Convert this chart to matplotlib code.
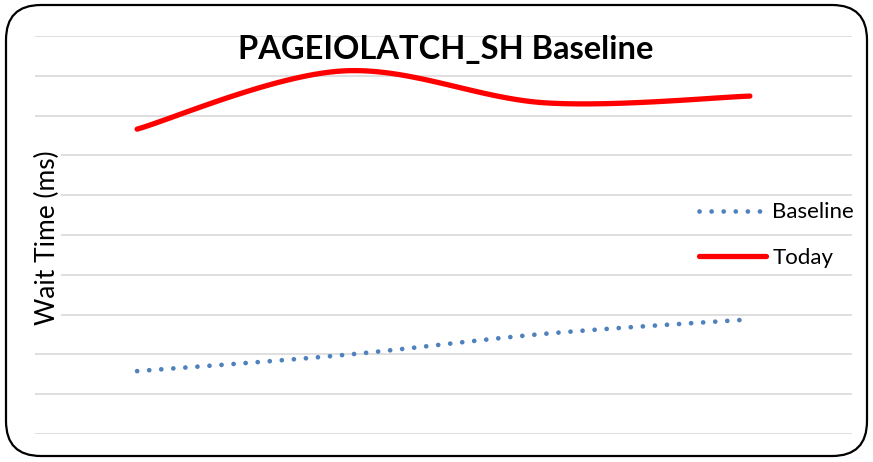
import matplotlib as mpl
mpl.use('Agg')
import matplotlib.pyplot as plt
import numpy as np
from matplotlib.patches import FancyBboxPatch

# wait-time samples, four points per series (axis units = gridline steps)
samples = [0, 1, 2, 3]
baseline = [1.58, 1.98, 2.52, 2.88]
today = [7.66, 9.12, 8.32, 8.49]


def smooth(xs, ys, n=40):
    # cubic Bezier segments through the points, Catmull-Rom style tangents
    xs = np.asarray(xs, float)
    ys = np.asarray(ys, float)
    px = np.concatenate([[xs[0]], xs, [xs[-1]]])
    py = np.concatenate([[ys[0]], ys, [ys[-1]]])
    out_x, out_y = [], []
    t = np.linspace(0, 1, n)
    for i in range(1, len(px) - 2):
        p0 = np.array([px[i], py[i]])
        p3 = np.array([px[i + 1], py[i + 1]])
        c1 = p0 + (np.array([px[i + 1], py[i + 1]]) - np.array([px[i - 1], py[i - 1]])) / 6
        c2 = p3 - (np.array([px[i + 2], py[i + 2]]) - np.array([px[i], py[i]])) / 6
        pts = ((1 - t) ** 3)[:, None] * p0 + (3 * (1 - t) ** 2 * t)[:, None] * c1 \
            + (3 * (1 - t) * t ** 2)[:, None] * c2 + (t ** 3)[:, None] * p3
        out_x.extend(pts[:, 0])
        out_y.extend(pts[:, 1])
    return np.array(out_x), np.array(out_y)


plt.rcParams['font.family'] = ['Lato', 'DejaVu Sans']

fig = plt.figure(figsize=(8.73, 4.62), dpi=100)
ax = fig.add_axes([35 / 873, 1 - 434 / 462, 817 / 873, 398 / 462])

bx, by = smooth(samples, baseline)
tx, ty = smooth(samples, today)
ax.plot(bx, by, color='#4F81BD', linewidth=3.4, linestyle=(0, (0.01, 2.55)),
        dash_capstyle='round', label='Baseline', zorder=3)
ax.plot(tx, ty, color='#FF0000', linewidth=3.8, solid_capstyle='round',
        label='Today', zorder=3)

ax.set_xlim(-0.5, 3.5)
ax.set_ylim(0, 10)
ax.set_yticks(np.arange(0, 11))
ax.set_xticks([])
ax.yaxis.grid(True, color='#D9D9D9', linewidth=1.2)
ax.tick_params(axis='y', length=0, labelleft=False)
for s in ax.spines.values():
    s.set_visible(False)
ax.set_axisbelow(True)

fig.text(446 / 873, 1 - 50 / 462, 'PAGEIOLATCH_SH Baseline', ha='center', va='center',
         fontsize=23.5, fontweight='bold')
fig.text(47 / 873, 1 - 238 / 462, 'Wait Time (ms)', ha='center', va='center',
         rotation=90, fontsize=19,
         bbox=dict(facecolor='white', edgecolor='none', pad=1))

leg = ax.legend(loc='center left', bbox_to_anchor=(679 / 873, 1 - 235 / 462),
                bbox_transform=fig.transFigure, frameon=False, fontsize=16,
                handlelength=3.0, handletextpad=0.3, labelspacing=1.13)

border = FancyBboxPatch((6 / 873, 6 / 462), 861 / 873, 451 / 462,
                        boxstyle='round,pad=0,rounding_size=0.04',
                        transform=fig.transFigure, fill=False,
                        edgecolor='black', linewidth=1.6,
                        mutation_aspect=873 / 462)
fig.patches.append(border)

fig.savefig('out.png', dpi=100, facecolor='white')
